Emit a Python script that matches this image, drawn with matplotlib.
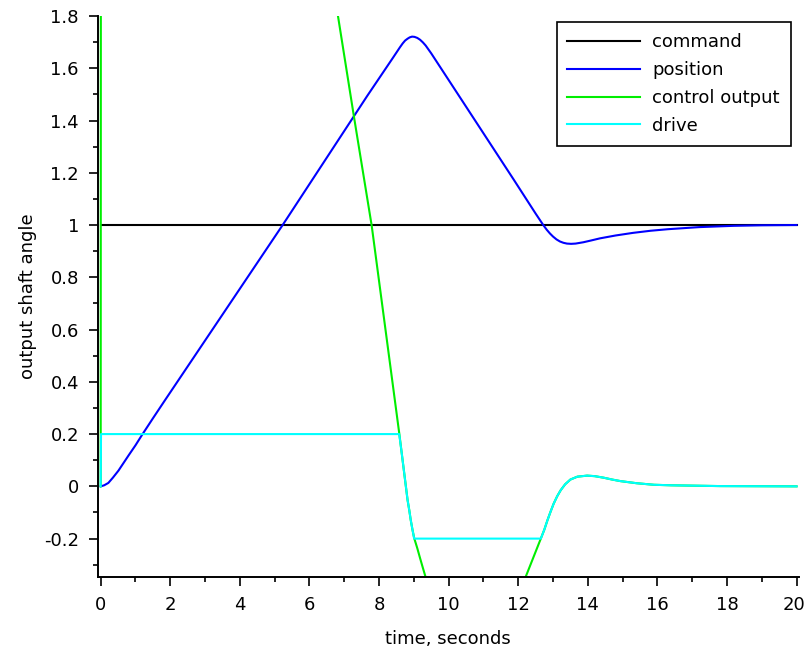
import matplotlib
matplotlib.use("Agg")
import matplotlib.pyplot as plt
import matplotlib.transforms as mtransforms
from matplotlib.ticker import MultipleLocator

# values
command_t = [0.0, 20.0]
command_y = [1.0, 1.0]

position_t = [0.0, 0.1, 0.22, 0.35, 0.51, 0.65, 0.8, 1.0, 1.18, 1.5, 1.85, 5.23, 7.66, 8.4,
              8.5, 8.6, 8.68, 8.75, 8.82, 8.88, 8.95, 9.02, 9.1, 9.18, 9.26, 9.34, 9.42, 9.5,
              10.3, 11.87, 12.5, 12.62, 12.72, 12.82, 12.91, 13.0, 13.1, 13.2, 13.3, 13.4,
              13.52, 13.65, 13.87, 14.1, 14.35, 14.8, 15.3, 15.8, 16.3, 17.2, 18.2, 19.0, 20.0]
position_y = [0.0, 0.004, 0.013, 0.033, 0.06, 0.088, 0.118, 0.157, 0.195, 0.26, 0.33, 1.0,
              1.494, 1.64, 1.66, 1.68, 1.695, 1.706, 1.713, 1.718, 1.721, 1.72, 1.716, 1.709,
              1.699, 1.687, 1.672, 1.657, 1.494, 1.174, 1.044, 1.02, 1.0, 0.982, 0.968, 0.956,
              0.945, 0.937, 0.932, 0.929, 0.928, 0.929, 0.934, 0.941, 0.949, 0.96, 0.97, 0.978,
              0.984, 0.992, 0.997, 0.999, 1.0]

control_t = [0.0, 0.01, 3.0, 6.0, 6.82, 7.28, 7.79, 8.58, 8.64, 8.70, 8.76, 8.82, 8.87,
             8.91, 8.96, 9.01, 9.1, 9.18, 9.26, 9.34, 9.6, 10.5, 11.5, 12.21, 12.65, 12.75,
             12.84, 12.93, 13.02, 13.12, 13.22, 13.35, 13.5, 13.7, 13.98, 14.2, 14.46, 14.7,
             14.94, 15.4, 15.9, 16.4, 16.86, 17.8, 20.0]
control_y = [0.0, 4.0, 3.0, 2.5, 1.8, 1.414, 0.997, 0.204, 0.14, 0.076, 0.012, -0.052,
             -0.092, -0.128, -0.165, -0.198, -0.237, -0.275, -0.312, -0.348, -0.44, -0.52,
             -0.48, -0.348, -0.2, -0.166, -0.13, -0.097, -0.066, -0.038, -0.015, 0.008,
             0.026, 0.037, 0.041, 0.039, 0.033, 0.026, 0.02, 0.012, 0.006, 0.004, 0.003,
             0.001, 0.0]

drive_t = [0.0, 0.01, 8.58, 8.64, 8.70, 8.76, 8.82, 8.87, 8.91, 8.96, 9.01, 12.65, 12.75,
           12.84, 12.93, 13.02, 13.12, 13.22, 13.35, 13.5, 13.7, 13.98, 14.2, 14.46, 14.7,
           14.94, 15.4, 15.9, 16.4, 16.86, 17.8, 20.0]
drive_y = [0.0, 0.2, 0.2, 0.14, 0.076, 0.012, -0.052, -0.092, -0.128, -0.165, -0.2, -0.2,
           -0.166, -0.13, -0.097, -0.066, -0.038, -0.015, 0.008, 0.026, 0.037, 0.041, 0.039,
           0.033, 0.026, 0.02, 0.012, 0.006, 0.004, 0.003, 0.001, 0.0]

x_ticks = [0, 2, 4, 6, 8, 10, 12, 14, 16, 18, 20]
y_ticks = [-0.2, 0, 0.2, 0.4, 0.6, 0.8, 1, 1.2, 1.4, 1.6, 1.8]
y_tick_labels = ['-0.2', '0', '0.2', '0.4', '0.6', '0.8', '1', '1.2', '1.4', '1.6', '1.8']

plt.rcParams['font.family'] = 'DejaVu Sans'
plt.rcParams['font.size'] = 13
plt.rcParams['axes.unicode_minus'] = False

fig = plt.figure(figsize=(8.06, 6.52), dpi=100)
ax = fig.add_axes([0.1212, 0.1150, 0.8701, 0.8605])

ax.plot(command_t, command_y, color='black', lw=1.5, label='command')
ax.plot(position_t, position_y, color='blue', lw=1.5, label='position')
ax.plot(control_t, control_y, color='#00ee00', lw=1.5, label='control output')
ax.plot(drive_t, drive_y, color='cyan', lw=1.5, label='drive')

ax.set_xlim(-0.086, 20.07)
ax.set_ylim(-0.347, 1.8)
ax.set_xticks(x_ticks)
ax.set_yticks(y_ticks)
ax.set_yticklabels(y_tick_labels)
ax.xaxis.set_minor_locator(MultipleLocator(1))
ax.yaxis.set_minor_locator(MultipleLocator(0.1))
ax.tick_params(which='major', direction='out', length=6.5, width=1.2, pad=7)
ax.tick_params(axis='x', which='major', pad=7.5)
ax.tick_params(which='minor', direction='out', length=3.5, width=1.2)

# nudge the last x label so it stays inside the picture
last = ax.get_xticklabels()[-1]
last.set_transform(last.get_transform() +
                   mtransforms.ScaledTranslation(-3 / 100, 0, fig.dpi_scale_trans))

ax.spines['top'].set_visible(False)
ax.spines['right'].set_visible(False)
ax.spines['left'].set_linewidth(1.4)
ax.spines['bottom'].set_linewidth(1.4)

ax.set_xlabel('time, seconds', labelpad=11)
ax.set_ylabel('output shaft angle', labelpad=5)

leg = ax.legend(loc='upper right', bbox_to_anchor=(0.988, 0.989), borderaxespad=0,
                fancybox=False, framealpha=1, edgecolor='black', handlelength=4.0,
                handletextpad=0.7, labelspacing=0.55, borderpad=0.6)
leg.get_frame().set_linewidth(1.2)

plt.savefig('out.png', dpi=100)
